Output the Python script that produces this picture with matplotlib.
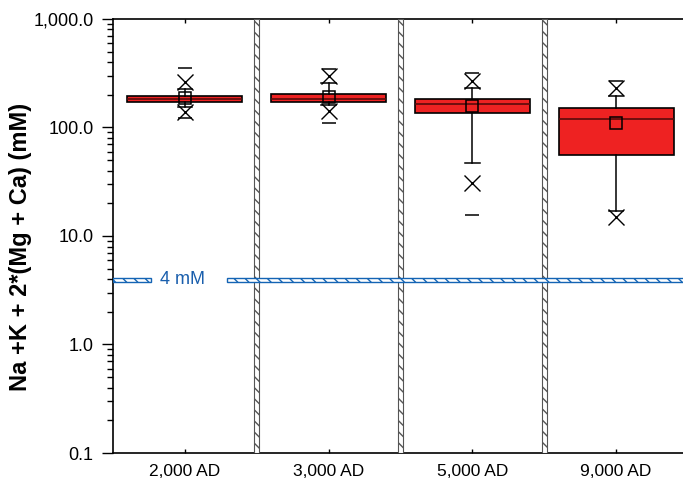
import numpy as np
import matplotlib.pyplot as plt
from matplotlib.ticker import FixedLocator, LogLocator, NullFormatter

plt.rcParams['font.family'] = ['Liberation Sans', 'DejaVu Sans']

# values (mM)
labels = ['2,000 AD', '3,000 AD', '5,000 AD', '9,000 AD']
q1 = [172, 171, 137, 56]
med = [184, 184, 164, 120]
q3 = [196, 205, 183, 150]
mean = [186, 192, 157, 109]
whis_lo = [156, 160, 47, 17]
whis_hi = [226, 256, 230, 195]
x_pts = [[262, 138], [300, 142], [270, 30.6], [230, 15.0]]
dash_pts = [[351, 122], [348, 110], [316, 15.5], [270]]
limit_mM = 4.0

fig = plt.figure(figsize=(6.83, 4.83), dpi=100)
ax = fig.add_axes([0.1654, 0.0621, 0.842, 0.8986])

pos = np.arange(1, len(labels) + 1)

stats = []
for i in range(len(labels)):
    stats.append(dict(med=med[i], q1=q1[i], q3=q3[i], whislo=whis_lo[i],
                      whishi=whis_hi[i], mean=mean[i], fliers=x_pts[i]))

ax.bxp(stats, positions=pos, widths=0.8, capwidths=0.1, patch_artist=True,
       showmeans=True, showfliers=True,
       boxprops=dict(facecolor='#ee2222', edgecolor='black', linewidth=1.2),
       medianprops=dict(color='#5a0a0a', linewidth=1.2),
       whiskerprops=dict(color='black', linewidth=1.1),
       capprops=dict(color='black', linewidth=1.1),
       meanprops=dict(marker='s', markerfacecolor='none', markeredgecolor='black',
                      markersize=9, markeredgewidth=1.1),
       flierprops=dict(marker='x', markersize=11, markeredgecolor='black',
                       markeredgewidth=1.0), zorder=3)

for i in range(len(labels)):
    ax.plot([pos[i]] * len(dash_pts[i]), dash_pts[i], linestyle='none', marker='_',
            markersize=10, markeredgewidth=1.1, color='black', zorder=3)

# hatched separators between groups
for s in pos[:-1] + 0.5:
    ax.axvspan(s - 0.017, s + 0.017, facecolor='white', edgecolor='#555555',
               hatch='\\\\\\', linewidth=0.8, zorder=4)

# 4 mM line
lo, hi = limit_mM * 0.945, limit_mM * 1.03
ax.axhspan(lo, hi, xmin=0, xmax=0.066, facecolor='white', edgecolor='#1464b4',
           hatch='\\\\\\', linewidth=1.0, zorder=5)
ax.axhspan(lo, hi, xmin=0.198, xmax=1, facecolor='white', edgecolor='#1464b4',
           hatch='\\\\\\', linewidth=1.0, zorder=5)
ax.text(0.83, limit_mM * 0.985, '4 mM', color='#1a5fad', fontsize=13,
        ha='left', va='center', zorder=6)

ax.set_yscale('log')
ax.set_ylim(0.1, 1000)
ax.set_xlim(0.5, 4.5)

ax.yaxis.set_major_locator(FixedLocator([0.1, 1, 10, 100, 1000]))
ax.yaxis.set_minor_locator(LogLocator(base=10, subs=np.arange(2, 10)))
ax.yaxis.set_minor_formatter(NullFormatter())
ax.set_yticklabels(['0.1', '1.0', '10.0', '100.0', '1,000.0'])
ax.tick_params(axis='y', which='major', direction='out', length=8, width=1,
               labelsize=13, pad=6, right=True)
ax.tick_params(axis='y', which='minor', direction='out', length=4, width=1, right=True)
ax.set_xticks(pos)
ax.set_xticklabels(labels)
ax.tick_params(axis='x', direction='in', length=3, width=1, top=True,
               labelsize=12.5, pad=8)

for sp in ax.spines.values():
    sp.set_linewidth(1.2)

ax.set_ylabel('Na +K + 2*(Mg + Ca) (mM)', fontsize=17, fontweight='bold')
ax.yaxis.set_label_coords(-0.141, 0.475)

plt.savefig('out.png', dpi=100)
